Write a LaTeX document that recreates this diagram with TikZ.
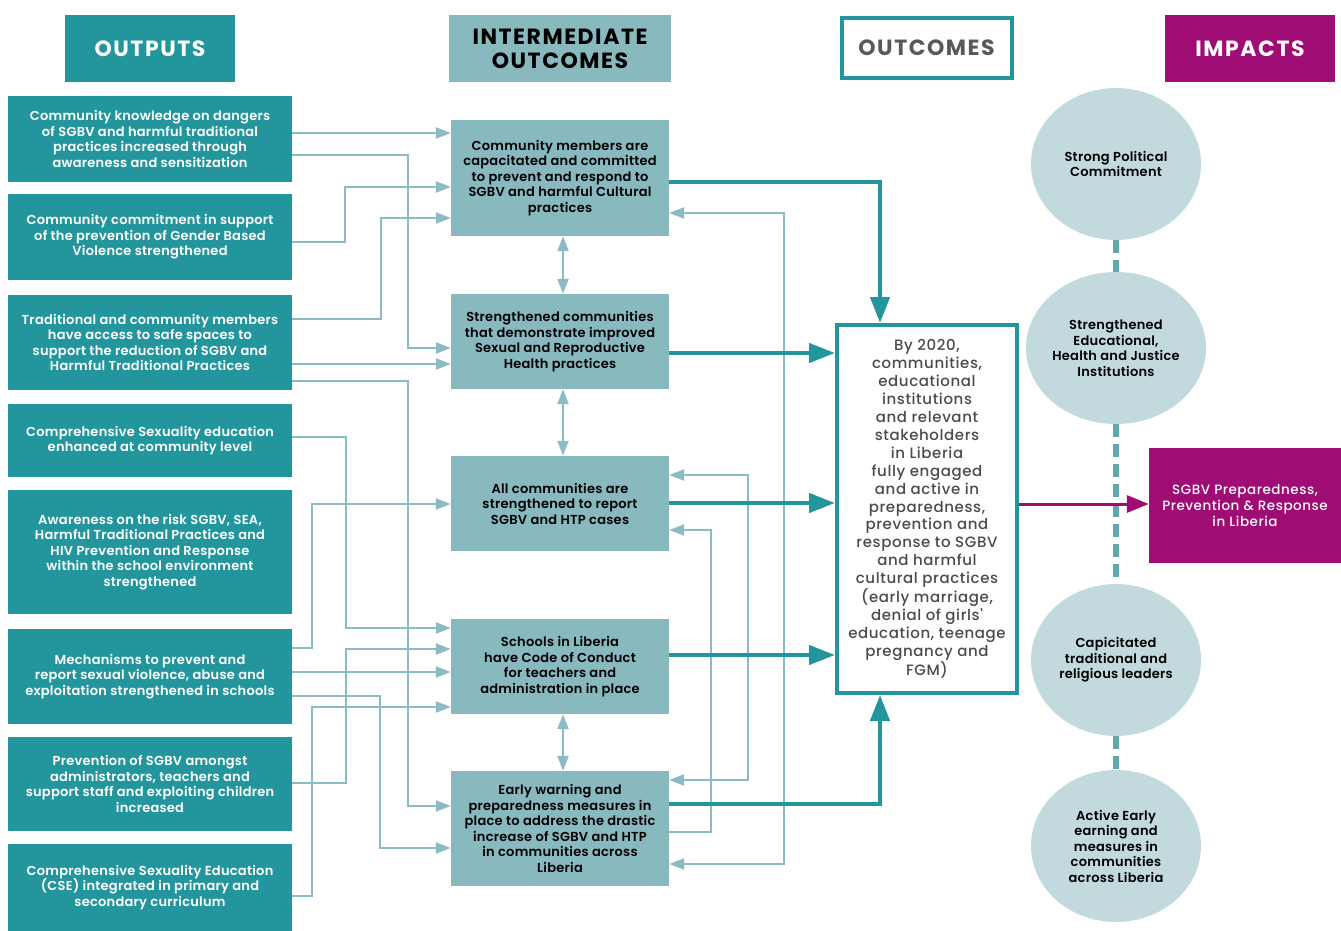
\documentclass[tikz,border=0pt]{standalone}
\usepackage{fontspec}
\setmainfont{Poppins}
\newfontfamily\sbf{Poppins SemiBold}[LetterSpace=2]
\newfontfamily\hdrf{Poppins Bold}[LetterSpace=7]
\newfontfamily\medf{Poppins Medium}[LetterSpace=4]
\usetikzlibrary{arrows.meta,shapes.geometric,calc}
\definecolor{tealD}{HTML}{23959D}
\definecolor{tealL}{HTML}{87B9BF}
\definecolor{lineL}{HTML}{8BBCC3}
\definecolor{circ}{HTML}{C2DADE}
\definecolor{mag}{HTML}{9F0C74}
\definecolor{txtG}{HTML}{4A4B4D}
\definecolor{hdrG}{HTML}{58595B}
\definecolor{dashC}{HTML}{5FA8AF}
\tikzset{
  outbox/.style={rectangle,fill=tealD,text=white,minimum width=284pt,align=center,inner sep=0pt,
    font=\sbf\fontsize{13}{15.5}\selectfont},
  midbox/.style={rectangle,fill=tealL,text=black,minimum width=218pt,align=center,inner sep=0pt,
    font=\sbf\fontsize{13}{15.5}\selectfont},
  hdr/.style={rectangle,minimum height=67pt,align=center,inner sep=0pt,
    font=\hdrf\fontsize{22}{24}\selectfont},
  circnode/.style={ellipse,fill=circ,minimum width=170pt,minimum height=152pt,inner sep=0pt,align=center,
    font=\sbf\fontsize{13}{15.5}\selectfont},
  lt/.style={draw=lineL,line width=2.4pt,-{Triangle[length=15pt,width=11pt]}},
  ltboth/.style={draw=lineL,line width=2.4pt,{Triangle[length=15pt,width=11pt]}-{Triangle[length=15pt,width=11pt]}},
  thk/.style={draw=tealD,line width=4.5pt,-{Triangle[length=26pt,width=19pt]}},
}
\begin{document}
\begin{tikzpicture}[x=1pt,y=-1pt]
\useasboundingbox (0,0) rectangle (1341,931);
% headers
\node[hdr,fill=tealD,text=white,minimum width=170pt] (H1) at (150,48.5) {OUTPUTS};
\node[hdr,fill=tealL,text=black,minimum width=222pt] (H2) at (560,48.5) {INTERMEDIATE\\OUTCOMES};
\node[hdr,fill=white,draw=tealD,line width=4pt,text=hdrG,minimum width=170pt,minimum height=60pt] (H3) at (926.5,48) {OUTCOMES};
\node[hdr,fill=mag,text=white,minimum width=170pt] (H4) at (1250,48.5) {IMPACTS};
% outputs
\node[outbox,minimum height=86pt] (O1) at (150,139) {Community knowledge on dangers\\of SGBV and harmful traditional\\practices increased through\\awareness and sensitization};
\node[outbox,minimum height=86pt] (O2) at (150,237) {Community commitment in support\\of the prevention of Gender Based\\Violence strengthened};
\node[outbox,minimum height=95pt] (O3) at (150,342.5) {Traditional and community members\\have access to safe spaces to\\support the reduction of SGBV and\\Harmful Traditional Practices};
\node[outbox,minimum height=73pt] (O4) at (150,440.5) {Comprehensive Sexuality education\\enhanced at community level};
\node[outbox,minimum height=124pt] (O5) at (150,552) {Awareness on the risk SGBV, SEA,\\Harmful Traditional Practices and\\HIV Prevention and Response\\within the school environment\\strengthened};
\node[outbox,minimum height=95pt] (O6) at (150,676.5) {Mechanisms to prevent and\\report sexual violence, abuse and\\exploitation strengthened in schools};
\node[outbox,minimum height=94pt] (O7) at (150,784) {Prevention of SGBV amongst\\administrators, teachers and\\support staff and exploiting children\\increased};
\node[outbox,minimum height=87pt] (O8) at (150,887.5) {Comprehensive Sexuality Education\\(CSE) integrated in primary and\\secondary curriculum};
% intermediate
\node[midbox,minimum height=116pt] (I1) at (560,178) {Community members are\\capacitated and committed\\to prevent and respond to\\SGBV and harmful Cultural\\practices};
\node[midbox,minimum height=95pt] (I2) at (560,341.5) {Strengthened communities\\that demonstrate improved\\Sexual and Reproductive\\Health practices};
\node[midbox,minimum height=95pt] (I3) at (560,503.5) {All communities are\\strengthened to report\\SGBV and HTP cases};
\node[midbox,minimum height=95pt] (I4) at (560,666.5) {Schools in Liberia\\have Code of Conduct\\for teachers and\\administration in place};
\node[midbox,minimum height=115pt] (I5) at (560,828.5) {Early warning and\\preparedness measures in\\place to address the drastic\\increase of SGBV and HTP\\in communities across\\Liberia};
% outcome
\node[rectangle,draw=tealD,line width=4pt,fill=white,minimum width=180pt,minimum height=368pt,align=center,inner sep=0pt,
  text=txtG,font=\medf\fontsize{15}{17.9}\selectfont] (OC) at (927,509) {By 2020,\\communities,\\educational\\institutions\\and relevant\\stakeholders\\in Liberia\\fully engaged\\and active in\\preparedness,\\prevention and\\response to SGBV\\and harmful\\cultural practices\\(early marriage,\\denial of girls'\\education, teenage\\pregnancy and\\FGM)};
% impacts
\node[circnode] (C1) at (1116,164) {Strong Political\\Commitment};
\node[circnode] (C2) at (1116,348) {Strengthened\\Educational,\\Health and Justice\\Institutions};
\node[circnode] (C3) at (1116,660) {Capicitated\\traditional and\\religious leaders};
\node[circnode] (C4) at (1116,846) {Active Early\\earning and\\measures in\\communities\\across Liberia};
\node[rectangle,fill=mag,text=white,minimum width=192pt,minimum height=115pt,align=center,inner sep=0pt,
  font=\medf\fontsize{13.5}{15.6}\selectfont] (IM) at (1245,505.5) {SGBV Preparedness,\\Prevention \& Response\\in Liberia};
% dashed links
\draw[dashC,line width=6pt,dash pattern=on 13pt off 7pt] (C1.south) -- (C2.north);
\draw[dashC,line width=6pt,dash pattern=on 13pt off 7pt] (C2.south) -- (C3.north);
\draw[dashC,line width=6pt,dash pattern=on 13pt off 7pt] (C3.south) -- (C4.north);
% outputs -> intermediate
\draw[lt] (O1.east |- 0,133) -- (I1.west |- 0,133);
\draw[lt] (O1.east |- 0,155) -| (408,348) -- (I2.west |- 0,348);
\draw[lt] (O2.east |- 0,242) -| (345,187) -- (I1.west |- 0,187);
\draw[lt] (O3.east |- 0,319) -| (381,218) -- (I1.west |- 0,218);
\draw[lt] (O3.east |- 0,364) -- (I2.west |- 0,364);
\draw[lt] (O3.east |- 0,381) -| (408,806) -- (I5.west |- 0,806);
\draw[lt] (O4.east |- 0,437) -| (346,628) -- (I4.west |- 0,628);
\draw[lt] (O6.east |- 0,648) -| (312,504) -- (I3.west |- 0,504);
\draw[lt] (O7.east |- 0,783) -| (346,649) -- (I4.west |- 0,649);
\draw[lt] (O6.east |- 0,672) -- (I4.west |- 0,672);
\draw[lt] (O6.east |- 0,696) -| (380,848) -- (I5.west |- 0,848);
\draw[lt] (O8.east |- 0,896) -| (312,707) -- (I4.west |- 0,707);
% between intermediates
\draw[ltboth] ([xshift=3pt]I1.south) -- ([xshift=3pt]I2.north);
\draw[ltboth] ([xshift=3pt]I2.south) -- ([xshift=3pt]I3.north);
\draw[ltboth] ([xshift=3pt]I4.south) -- ([xshift=3pt]I5.north);
\draw[ltboth] (I5.east |- 0,864) -| (784,213) -- (I1.east |- 0,213);
\draw[ltboth] (I5.east |- 0,780) -| (748,475) -- (I3.east |- 0,475);
\draw[lt] (I5.east |- 0,832) -| (711,530) -- (I3.east |- 0,530);
% intermediate -> outcome
\draw[thk] (I1.east |- 0,182) -| (OC.north -| 880,0);
\draw[thk] (I2.east |- 0,353) -- (OC.west |- 0,353);
\draw[thk] (I3.east |- 0,503) -- (OC.west |- 0,503);
\draw[thk] (I4.east |- 0,655) -- (OC.west |- 0,655);
\draw[thk] (I5.east |- 0,804) -| (OC.south -| 880,0);
% outcome -> impact
\draw[draw=mag,line width=3pt,-{Triangle[length=22pt,width=17pt]}] (OC.east |- 0,504) -- (IM.west |- 0,504);
\end{tikzpicture}
\end{document}
